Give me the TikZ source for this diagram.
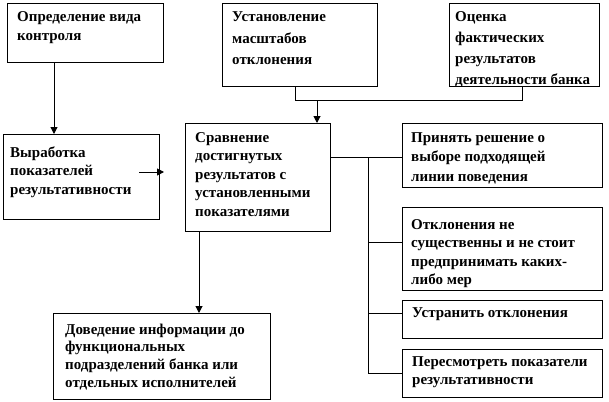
\documentclass[tikz,border=0pt]{standalone}
\usepackage{fontspec}
\setmainfont{Liberation Serif}
\usetikzlibrary{arrows.meta}
\tikzset{
  boxnode/.style={draw, line width=1pt, inner sep=0pt, anchor=north west},
  txt/.style={inner sep=0pt, anchor=base west, font=\fontsize{15}{19}\selectfont\bfseries},
  conn/.style={line width=1pt},
  arr/.style={line width=1pt, -{Triangle[width=7pt,length=7pt]}}
}
\newcommand{\tbox}[3]{\parbox[t]{#1}{\raggedright\fontsize{15}{#2}\selectfont\bfseries #3}}
\begin{document}
\begin{tikzpicture}[x=1pt,y=-1pt]
\useasboundingbox (0,0) rectangle (609,401);
% boxes
\node[boxnode, minimum width=156, minimum height=59] (b1) at (7,3) {};
\node[boxnode, minimum width=155, minimum height=83] (b2) at (222,3) {};
\node[boxnode, minimum width=150, minimum height=83] (b3) at (449,3) {};
\node[boxnode, minimum width=156, minimum height=85] (b4) at (3,134) {};
\node[boxnode, minimum width=145, minimum height=108] (b5) at (185,123) {};
\node[boxnode, minimum width=200, minimum height=64] (r1) at (402,123) {};
\node[boxnode, minimum width=200, minimum height=83] (r2) at (402,207) {};
\node[boxnode, minimum width=200, minimum height=38] (r3) at (402,300) {};
\node[boxnode, minimum width=200, minimum height=48] (r4) at (402,349) {};
\node[boxnode, minimum width=217, minimum height=86] (b6) at (53,313) {};
% texts
\node[txt] (t1) at ([shift={(10,19)}]b1.north west) {\tbox{150pt}{19pt}{Определение вида\\контроля}};
\node[txt] (t2) at ([shift={(10,19)}]b2.north west) {\tbox{150pt}{21.5pt}{Установление\\масштабов\\отклонения}};
\node[txt] (t3) at ([shift={(6,19)}]b3.north west) {\tbox{150pt}{21pt}{Оценка\\фактических\\результатов\\деятельности банка}};
\node[txt] (t4) at ([shift={(7,23)}]b4.north west) {\tbox{150pt}{18.5pt}{Выработка\\показателей\\результативности}};
\node[txt] (t5) at ([shift={(10,19)}]b5.north west) {\tbox{150pt}{18.5pt}{Сравнение\\достигнутых\\результатов с\\установленными\\показателями}};
\node[txt] (t6) at ([shift={(9,19)}]r1.north west) {\tbox{200pt}{19.5pt}{Принять решение о\\выборе подходящей\\линии поведения}};
\node[txt] (t7) at ([shift={(9,22)}]r2.north west) {\tbox{200pt}{18.5pt}{Отклонения не\\существенны и не стоит\\предпринимать каких-\\либо мер}};
\node[txt] (t8) at ([shift={(10,17)}]r3.north west) {\tbox{200pt}{18pt}{Устранить отклонения}};
\node[txt] (t9) at ([shift={(10,17)}]r4.north west) {\tbox{200pt}{18pt}{Пересмотреть показатели\\результативности}};
\node[txt] (t10) at ([shift={(12,21)}]b6.north west) {\tbox{220pt}{17.7pt}{Доведение информации до\\функциональных\\подразделений банка или\\отдельных исполнителей}};
% connectors
\draw[arr] ([shift={(47,0)}]b1.south west) -- ([shift={(47,0)}]b1.south west |- b4.north);
\draw[conn] ([shift={(73,0)}]b2.south west) -- ++(0,13) -| ([shift={(73,0)}]b3.south west);
\coordinate (j) at ([shift={(95,13)}]b2.south west);
\draw[arr] (j) -- (j |- b5.north);
\draw[arr] ([shift={(-21,-5)}]b4.east) -- ([shift={(-21,-5)}]b4.east -| b5.west);
\coordinate (v) at ([shift={(37,0)}]b5.east);
\draw[conn] ([shift={(0,2)}]b5.east |- r1.west) -- ([shift={(0,2)}]r1.west);
\draw[conn] ([shift={(0,2)}]v |- r1.west) -- (v |- r4.west);
\draw[conn] ([shift={(0,-7)}]v |- r2.west) -- ([shift={(0,-7)}]r2.west);
\draw[conn] ([shift={(0,-6)}]v |- r3.west) -- ([shift={(0,-6)}]r3.west);
\draw[conn] (v |- r4.west) -- (r4.west);
\draw[arr] ([shift={(14,0)}]b5.south west) -- ([shift={(14,0)}]b5.south west |- b6.north);
\end{tikzpicture}
\end{document}
